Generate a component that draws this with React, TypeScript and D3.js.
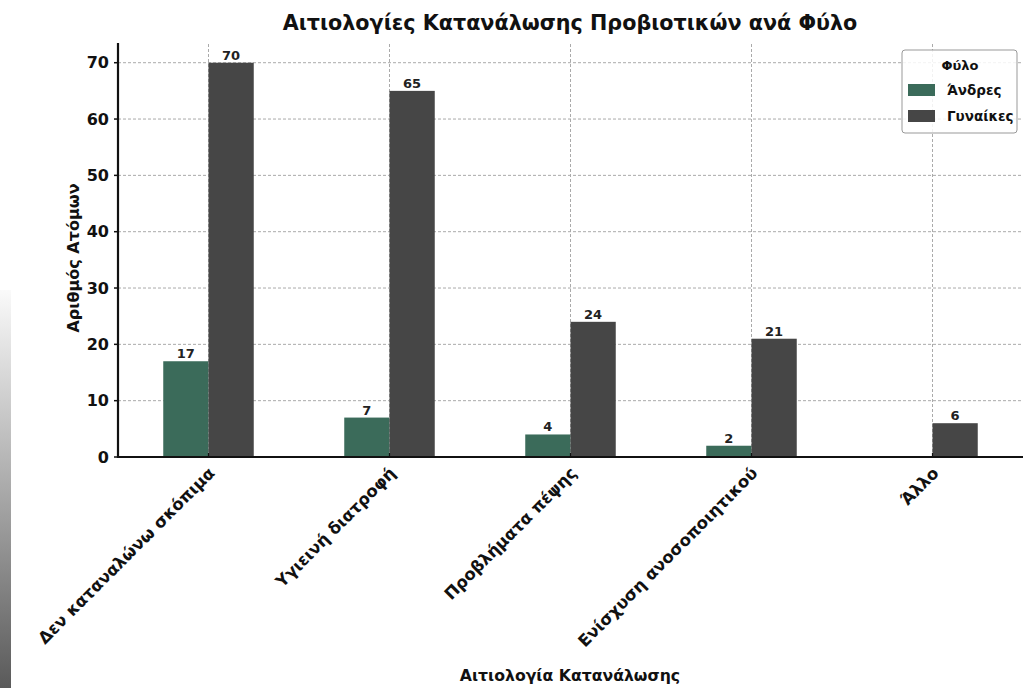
import React from "react";
import * as d3 from "d3";

const categories = [
  "Δεν καταναλώνω σκόπιμα",
  "Υγιεινή διατροφή",
  "Προβλήματα πέψης",
  "Ενίσχυση ανοσοποιητικού",
  "Άλλο",
];
const men: (number | null)[] = [17, 7, 4, 2, null];
const women: (number | null)[] = [70, 65, 24, 21, 6];
const yTicks = [0, 10, 20, 30, 40, 50, 60, 70];
const seriesNames = ["Άνδρες", "Γυναίκες"];
const colors = ["#3b6b5a", "#464646"];

const W = 1023;
const H = 688;
const font = "'DejaVu Sans', sans-serif";

export default function App() {
  const x = d3.scaleLinear().domain([-0.5, categories.length - 0.5]).range([118, 1023]);
  const y = d3.scaleLinear().domain([0, 73.5]).range([457, 43]);
  const bw = 0.25;
  const series = [men, women];

  return (
    <svg width={W} height={H} style={{ position: "absolute", left: 0, top: 0, background: "#fff" }}>
      <defs>
        <linearGradient id="edge" x1="0" y1="0" x2="0" y2="1">
          <stop offset="0" stopColor="#fafafa" />
          <stop offset="1" stopColor="#5a5a5a" />
        </linearGradient>
      </defs>
      {/* grey strip on the left edge */}
      <rect x={0} y={290} width={11} height={H - 290} fill="url(#edge)" />

      {/* grid */}
      {yTicks.map((t) => (
        <line key={"gy" + t} x1={x(-0.5)} x2={x(4.5)} y1={y(t)} y2={y(t)}
          stroke="#aaa" strokeDasharray="3,2" strokeWidth={1} />
      ))}
      {categories.map((c, i) => (
        <line key={"gx" + i} x1={x(i)} x2={x(i)} y1={y(0)} y2={y(73.5)}
          stroke="#aaa" strokeDasharray="3,2" strokeWidth={1} />
      ))}

      {/* bars */}
      {series.map((vals, s) =>
        vals.map((v, i) =>
          v == null ? null : (
            <g key={s + "-" + i}>
              <rect
                x={x(i + (s === 0 ? -bw : 0))}
                y={y(v)}
                width={x(bw) - x(0)}
                height={y(0) - y(v)}
                fill={colors[s]}
              />
              <text x={x(i + (s === 0 ? -bw / 2 : bw / 2))} y={y(v) - 3}
                textAnchor="middle" fontFamily={font} fontWeight="bold" fontSize={13} fill="#222">
                {v}
              </text>
            </g>
          )
        )
      )}

      {/* spines */}
      <line x1={x(-0.5)} x2={x(-0.5)} y1={y(73.5)} y2={y(0) + 1} stroke="#111" strokeWidth={2.2} />
      <line x1={x(-0.5) - 1} x2={x(4.5)} y1={y(0)} y2={y(0)} stroke="#111" strokeWidth={2.2} />

      {/* y ticks */}
      {yTicks.map((t) => (
        <g key={"yt" + t}>
          <line x1={x(-0.5) - 4} x2={x(-0.5)} y1={y(t)} y2={y(t)} stroke="#111" strokeWidth={1.5} />
          <text x={x(-0.5) - 9} y={y(t)} dy="0.36em" textAnchor="end"
            fontFamily={font} fontWeight="bold" fontSize={16} fill="#111">{t}</text>
        </g>
      ))}

      {/* x ticks */}
      {categories.map((c, i) => (
        <g key={"xt" + i}>
          <line x1={x(i)} x2={x(i)} y1={y(0)} y2={y(0) - 4} stroke="#111" strokeWidth={1.2} />
          <text transform={`translate(${x(i) - 1},${y(0) + 9}) rotate(-45)`} textAnchor="end"
            dy="0.7em" fontFamily={font} fontWeight="bold" fontSize={16.5} fill="#111">{c}</text>
        </g>
      ))}

      {/* titles */}
      <text x={570} y={30} textAnchor="middle" fontFamily={font} fontWeight="bold" fontSize={20.7} fill="#111">
        Αιτιολογίες Κατανάλωσης Προβιοτικών ανά Φύλο
      </text>
      <text transform={`translate(79,258) rotate(-90)`} textAnchor="middle"
        fontFamily={font} fontWeight="bold" fontSize={16} fill="#111">Αριθμός Ατόμων</text>
      <text x={570} y={681} textAnchor="middle" fontFamily={font} fontWeight="bold" fontSize={15.7} fill="#111">
        Αιτιολογία Κατανάλωσης
      </text>

      {/* legend */}
      <g>
        <rect x={902} y={50} width={115} height={83} rx={3} fill="#fff" fillOpacity={0.85}
          stroke="#999" strokeWidth={1} />
        <text x={960} y={70} textAnchor="middle" fontFamily={font} fontWeight="bold" fontSize={13} fill="#111">Φύλο</text>
        {seriesNames.map((n, k) => (
          <g key={n}>
            <rect x={908} y={84 + k * 26} width={27} height={12} fill={colors[k]} />
            <text x={947} y={90 + k * 26} dy="0.36em" fontFamily={font} fontWeight="bold" fontSize={13.5} fill="#111">{n}</text>
          </g>
        ))}
      </g>
    </svg>
  );
}
